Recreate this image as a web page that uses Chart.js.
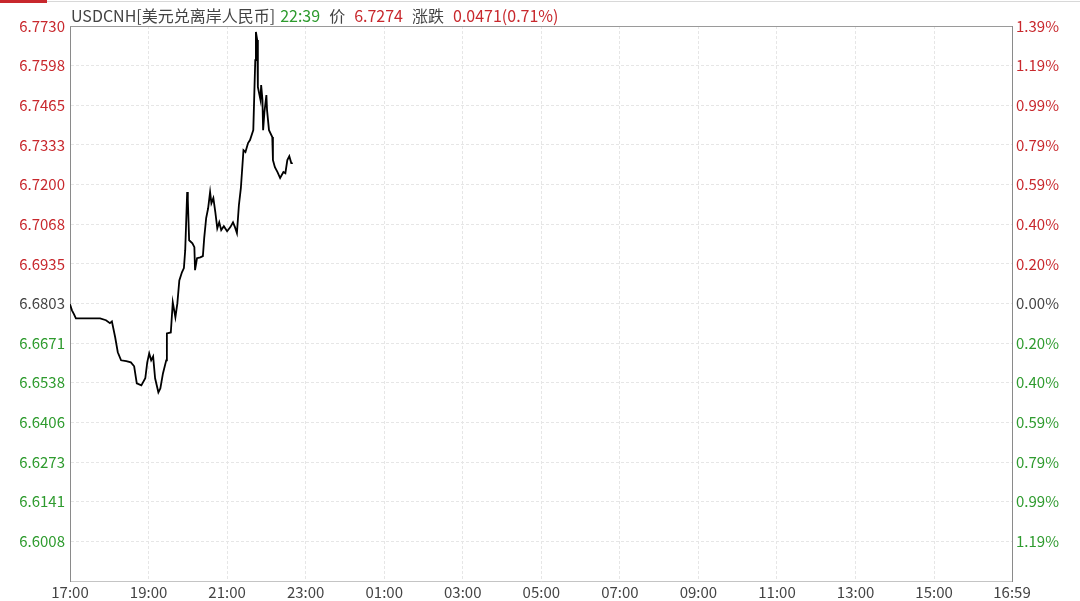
<!DOCTYPE html>
<html>
<head>
<meta charset="utf-8">
<script src="https://cdn.jsdelivr.net/npm/chart.js@4/dist/chart.umd.min.js"></script>
<style>
  body { margin: 0; background: #fff; }
  #wrap { position: relative; width: 1080px; height: 601px; overflow: hidden; }
  #tabline { position: absolute; left: 0; top: 1px; width: 1080px; height: 1px; background: #d8d8d8; }
  #tab { position: absolute; left: 0; top: 0; width: 47px; height: 3px; background: #c8282d; }
  #head { position: absolute; left: 71px; top: 3px; font: 16px "Noto Sans CJK SC", sans-serif; color: #444; white-space: nowrap; }
  #head span { margin-right: 9px; }
  .g { color: #2e9b2e; }
  .r { color: #c8282d; }
</style>
</head>
<body>
<div id="wrap">
  <canvas id="myChart" width="1080" height="601"></canvas>
  <div id="tabline"></div>
  <div id="tab"></div>
  <div id="head"><span style="margin-right:5px">USDCNH[美元兑离岸人民币]</span><span class="g">22:39</span><span>价</span><span class="r">6.7274</span><span>涨跌</span><span class="r">0.0471(0.71%)</span></div>
</div>
<script>
let prevClose = 6.6803;

let times = ['17:00','17:03','17:06','17:09','17:23','17:46','17:55','18:01','18:04','18:09',
  '18:13','18:18','18:26','18:33','18:38','18:42','18:49','18:55','18:58','19:01',
  '19:04','19:07','19:10','19:15','19:18','19:22','19:27','19:28','19:34','19:37',
  '19:41','19:44','19:47','19:51','19:54','19:56','19:59','20:00','20:02','20:07',
  '20:10','20:11','20:14','20:19','20:23','20:25','20:28','20:31','20:34','20:36',
  '20:39','20:42','20:45','20:48','20:51','20:55','21:00','21:05','21:09','21:12',
  '21:15','21:18','21:21','21:25','21:28','21:32','21:35','21:40','21:43','21:44',
  '21:46','21:47','21:51','21:52','21:54','21:55','21:57','22:00','22:01','22:04',
  '22:09','22:10','22:13','22:17','22:21','22:26','22:29','22:32','22:35','22:38','22:39'];

let prices = [6.6800, 6.6780, 6.6767, 6.6753, 6.6753, 6.6753, 6.6747, 6.6737, 6.6743, 6.6690,
  6.6640, 6.6613, 6.6610, 6.6606, 6.6593, 6.6536, 6.6529, 6.6553, 6.6606, 6.6636,
  6.6613, 6.6626, 6.6553, 6.6506, 6.6519, 6.6569, 6.6613, 6.6703, 6.6706, 6.6807,
  6.6757, 6.6803, 6.6880, 6.6907, 6.6921, 6.6981, 6.7175, 6.7148, 6.7014, 6.7004,
  6.6991, 6.6914, 6.6954, 6.6957, 6.6961, 6.7021, 6.7088, 6.7121, 6.7175, 6.7138,
  6.7155, 6.7108, 6.7054, 6.7074, 6.7048, 6.7061, 6.7044, 6.7058, 6.7074, 6.7058,
  6.7038, 6.7131, 6.7188, 6.7315, 6.7309, 6.7339, 6.7349, 6.7382, 6.7616, 6.7710,
  6.7683, 6.7526, 6.7483, 6.7533, 6.7483, 6.7382, 6.7442, 6.7499, 6.7449, 6.7382,
  6.7359, 6.7282, 6.7258, 6.7242, 6.7222, 6.7242, 6.7238, 6.7282, 6.7295, 6.7272, 6.7274];

let priceTicks = ['6.7730','6.7598','6.7465','6.7333','6.7200','6.7068','6.6935',
  '6.6803','6.6671','6.6538','6.6406','6.6273','6.6141','6.6008'];
let pctTicks = ['1.39%','1.19%','0.99%','0.79%','0.59%','0.40%','0.20%',
  '0.00%','0.20%','0.40%','0.59%','0.79%','0.99%','1.19%'];
let timeTicks = ['17:00','19:00','21:00','23:00','01:00','03:00','05:00',
  '07:00','09:00','11:00','13:00','15:00','16:59'];

const RED = '#c8282d', GREEN = '#2e9b2e', DARK = '#444';
const FONT = '"Noto Sans CJK SC", sans-serif';

function toMin(t) {
  let p = t.split(':');
  let m = (+p[0]) * 60 + (+p[1]) - 17 * 60;
  if (m < 0) m += 1440;
  return m;
}

let yMax = parseFloat(priceTicks[0]);
let yLow = parseFloat(priceTicks[priceTicks.length - 1]);
let step = (yMax - yLow) / (priceTicks.length - 1);
let yMin = yLow - step;

let yTickVals = priceTicks.map((t, i) => yMax - i * step);
yTickVals.push(yMin);

function tickColor(ctx) {
  let i = ctx.index;
  if (i >= priceTicks.length) return DARK;
  let v = parseFloat(priceTicks[i]);
  if (Math.abs(v - prevClose) < 1e-6) return DARK;
  return v > prevClose ? RED : GREEN;
}

let points = times.map((t, i) => ({x: toMin(t), y: prices[i]}));

const frameLines = {
  id: 'frameLines',
  afterDraw(chart) {
    let a = chart.chartArea, c = chart.ctx;
    c.save();
    c.strokeStyle = '#9a9a9a';
    c.lineWidth = 1;
    c.beginPath();
    c.moveTo(a.left, Math.round(a.top) + 0.5);
    c.lineTo(a.right, Math.round(a.top) + 0.5);
    c.stroke();
    c.restore();
  }
};

let grid = { color: '#e6e6e6', lineWidth: 1, drawTicks: false };

let ctx = document.getElementById('myChart').getContext('2d');
let myChart = new Chart(ctx, {
  type: 'line',
  data: {
    datasets: [{
      data: points,
      borderColor: '#000',
      borderWidth: 1.8,
      pointRadius: 0,
      tension: 0,
      yAxisID: 'y'
    }]
  },
  options: {
    responsive: false,
    animation: false,
    layout: { padding: { top: 26, left: 0, right: 0, bottom: 0 } },
    plugins: { legend: { display: false }, tooltip: { enabled: false } },
    scales: {
      x: {
        type: 'linear',
        min: 0,
        max: 1439,
        afterBuildTicks: s => { s.ticks = timeTicks.map(t => ({value: toMin(t)})); },
        afterFit: s => { s.height = 20; },
        ticks: {
          autoSkip: false,
          maxRotation: 0,
          padding: 2,
          color: DARK,
          font: { family: FONT, size: 15 },
          callback: (v, i) => timeTicks[i]
        },
        grid: grid,
        border: { color: '#c4c4c4', dash: [3, 2] }
      },
      y: {
        position: 'left',
        min: yMin,
        max: yMax,
        afterBuildTicks: s => { s.ticks = yTickVals.map(v => ({value: v})); },
        afterFit: s => { s.width = 70; },
        ticks: {
          autoSkip: false,
          padding: 5,
          color: tickColor,
          font: { family: FONT, size: 15 },
          callback: (v, i) => priceTicks[i] || ''
        },
        grid: grid,
        border: { color: '#8a8a8a', dash: [3, 2] }
      },
      y2: {
        position: 'right',
        min: yMin,
        max: yMax,
        afterBuildTicks: s => { s.ticks = yTickVals.map(v => ({value: v})); },
        afterFit: s => { s.width = 68; },
        ticks: {
          autoSkip: false,
          padding: 4,
          color: tickColor,
          font: { family: FONT, size: 15 },
          callback: (v, i) => pctTicks[i] || ''
        },
        grid: { display: false, drawTicks: false },
        border: { color: '#8a8a8a' }
      }
    }
  },
  plugins: [frameLines]
});
</script>
</body>
</html>
